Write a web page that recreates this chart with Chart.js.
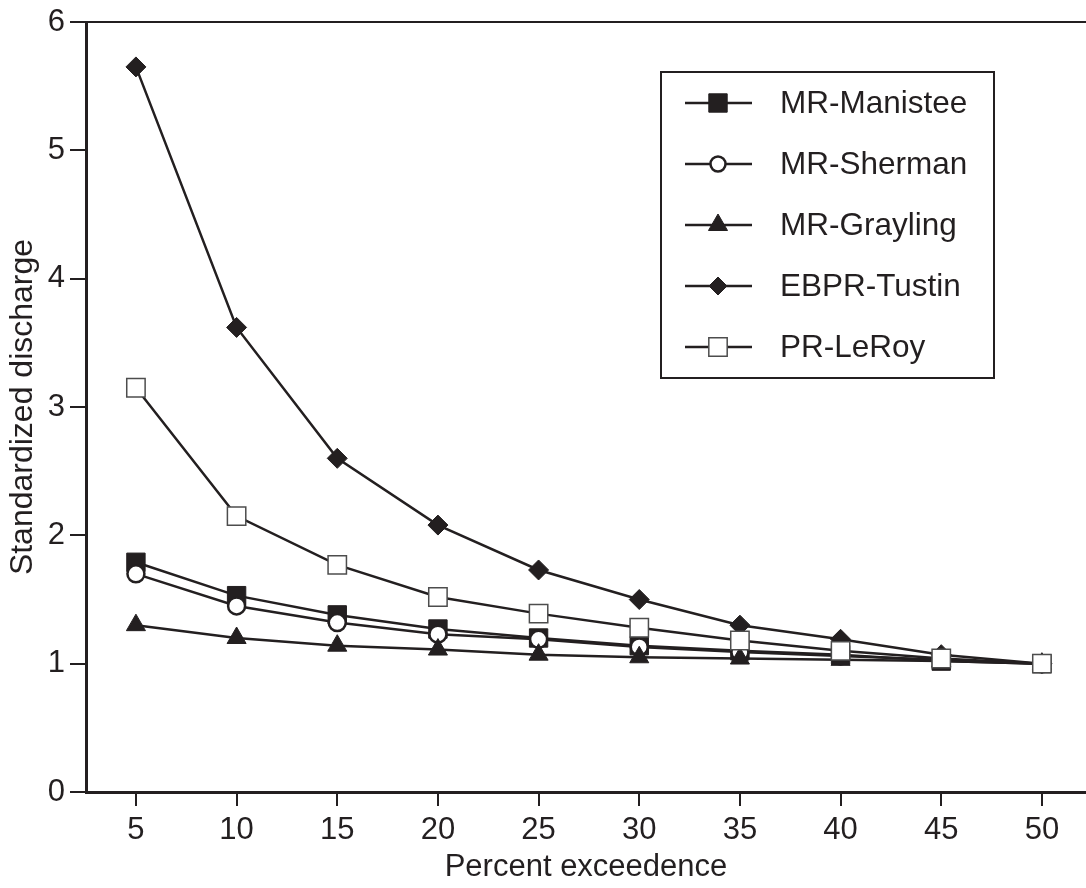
<!DOCTYPE html>
<html>
<head>
<meta charset="utf-8">
<script src="https://cdn.jsdelivr.net/npm/chart.js@4/dist/chart.umd.min.js"></script>
<style>
  html, body { margin: 0; padding: 0; background: #fff; overflow: hidden; }
  #chart { display: block; }
</style>
</head>
<body>
<canvas id="chart" width="1086" height="888"></canvas>
<script>
// Percent exceedence categories and standardized discharge per station
const percent = [5, 10, 15, 20, 25, 30, 35, 40, 45, 50];
const manistee = [1.79, 1.53, 1.38, 1.27, 1.20, 1.14, 1.10, 1.07, 1.02, 1.00];
const sherman = [1.70, 1.45, 1.32, 1.23, 1.19, 1.13, 1.09, 1.06, 1.03, 1.00];
const grayling = [1.30, 1.20, 1.14, 1.11, 1.07, 1.05, 1.04, 1.03, 1.02, 1.00];
const tustin = [5.65, 3.62, 2.60, 2.08, 1.73, 1.50, 1.30, 1.19, 1.07, 1.00];
const leroy = [3.15, 2.15, 1.77, 1.52, 1.39, 1.28, 1.18, 1.10, 1.04, 1.00];
const yTicks = [0, 1, 2, 3, 4, 5, 6];

const INK = '#231f20';
const FONT = "'Liberation Sans', Arial, Helvetica, sans-serif";

Chart.defaults.font.family = FONT;
Chart.defaults.color = INK;

function toPoints(values) {
    return percent.map((p, i) => ({ x: p, y: values[i] }));
}

function series(label, values, style, order) {
    return Object.assign({
        label: label,
        data: toPoints(values),
        borderColor: INK,
        borderWidth: 2.5,
        pointBorderColor: INK,
        pointBorderWidth: 1,
        pointBackgroundColor: INK,
        tension: 0,
        order: order
    }, style);
}

// Boxed legend inside the plot: line + marker + label for each series
const boxLegend = {
    id: 'boxLegend',
    afterDatasetsDraw(chart) {
        const ctx = chart.ctx;
        const box = { left: 661, top: 72, right: 994, bottom: 378 };
        ctx.save();
        ctx.fillStyle = '#fff';
        ctx.fillRect(box.left, box.top, box.right - box.left, box.bottom - box.top);
        ctx.strokeStyle = INK;
        ctx.lineWidth = 2;
        ctx.strokeRect(box.left, box.top, box.right - box.left, box.bottom - box.top);

        const rowTop = 103, rowGap = 61;
        chart.data.datasets.forEach((ds, i) => {
            const y = rowTop + i * rowGap;
            ctx.strokeStyle = INK;
            ctx.lineWidth = 2.5;
            ctx.beginPath();
            ctx.moveTo(685, y);
            ctx.lineTo(752, y);
            ctx.stroke();

            ctx.fillStyle = ds.pointBackgroundColor;
            ctx.strokeStyle = ds.pointBorderColor;
            ctx.lineWidth = ds.pointBorderWidth;
            Chart.helpers.drawPoint(ctx, {
                pointStyle: ds.pointStyle,
                radius: ds.legendRadius || ds.pointRadius,
                rotation: 0,
                borderWidth: ds.pointBorderWidth
            }, 718, y);

            ctx.fillStyle = INK;
            ctx.font = '31.5px ' + FONT;
            ctx.textAlign = 'left';
            ctx.textBaseline = 'middle';
            ctx.fillText(ds.label, 780, y + 1);
        });
        ctx.restore();
    }
};

const ctx = document.getElementById('chart').getContext('2d');
new Chart(ctx, {
    type: 'line',
    data: {
        datasets: [
            series('MR-Manistee', manistee, { pointStyle: 'rect', pointRadius: 13 }, 5),
            series('MR-Sherman', sherman, {
                pointStyle: 'circle', pointRadius: 8.5,
                pointBackgroundColor: '#fff', pointBorderWidth: 2.5, legendRadius: 7.5
            }, 4),
            series('MR-Grayling', grayling, { pointStyle: 'triangle', pointRadius: 11 }, 3),
            series('EBPR-Tustin', tustin, { pointStyle: 'rectRot', pointRadius: 10, legendRadius: 9 }, 2),
            series('PR-LeRoy', leroy, {
                pointStyle: 'rect', pointRadius: 13,
                pointBackgroundColor: '#fff', pointBorderColor: '#4d4d4d', pointBorderWidth: 1.5
            }, 1)
        ]
    },
    options: {
        responsive: false,
        animation: false,
        devicePixelRatio: 1,
        // frame runs off the right edge, so no automatic padding for markers
        layout: { autoPadding: false, padding: 0 },
        plugins: {
            legend: { display: false },
            tooltip: { enabled: false }
        },
        scales: {
            x: {
                type: 'linear',
                position: 'bottom',
                min: 2.52,
                max: 52.19,
                afterBuildTicks: axis => { axis.ticks = percent.map(v => ({ value: v })); },
                afterFit: scale => {
                    scale.height = 96;
                    scale.paddingLeft = 0;
                    scale.paddingRight = 0;
                },
                ticks: { font: { size: 31 }, padding: 6, color: INK, maxRotation: 0, autoSkip: false },
                grid: { drawOnChartArea: false, drawTicks: true, tickLength: 14, lineWidth: 2, color: INK },
                border: { display: true, width: 3, color: INK },
                title: {
                    display: true,
                    text: 'Percent exceedence',
                    font: { size: 31 },
                    color: INK,
                    padding: { top: 0, bottom: 2 }
                }
            },
            xTop: {
                type: 'linear',
                position: 'top',
                afterFit: scale => {
                    scale.height = 22;
                    scale.paddingLeft = 0;
                    scale.paddingRight = 0;
                },
                ticks: { display: false },
                grid: { display: false },
                border: { display: true, width: 2, color: INK }
            },
            y: {
                min: 0,
                max: 6,
                afterBuildTicks: axis => { axis.ticks = yTicks.map(v => ({ value: v })); },
                afterFit: scale => {
                    scale.width = 86;
                    scale.paddingTop = 0;
                    scale.paddingBottom = 0;
                },
                ticks: { font: { size: 31 }, padding: 5, color: INK },
                grid: { drawOnChartArea: false, drawTicks: true, tickLength: 16, lineWidth: 2, color: INK },
                border: { display: true, width: 3, color: INK },
                title: {
                    display: true,
                    text: 'Standardized discharge',
                    font: { size: 32 },
                    color: INK,
                    padding: { top: 4, bottom: 0 }
                }
            }
        }
    },
    plugins: [boxLegend]
});
</script>
</body>
</html>
